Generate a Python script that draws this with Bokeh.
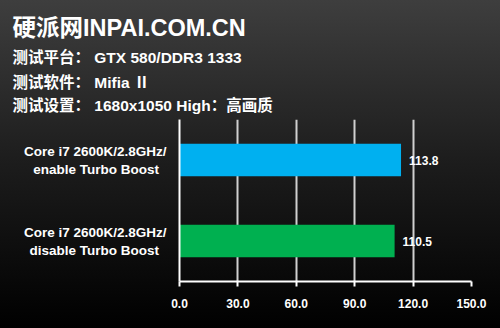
from bokeh.plotting import figure
from bokeh.models import FactorRange, Range1d, FixedTicker, Title, ColumnDataSource, LabelSet, NumeralTickFormatter
from bokeh.core.properties import value
from bokeh.embed import file_html
from bokeh.resources import INLINE

NB = "\u00a0\u00a0"
categories = ["Core i7 2600K/2.8GHz/\ndisable Turbo Boost" + NB, "Core i7 2600K/2.8GHz/\nenable Turbo Boost" + NB]
values = [110.5, 113.8]
colors = ["#00b050", "#00b0f0"]
value_labels = ["110.5", "113.8"]
x_ticks = [0, 30, 60, 90, 120, 150]

title_text = "硬派网INPAI.COM.CN"
info_lines = ["测试平台： GTX 580/DDR3 1333", "测试软件： Mifia Ⅱ", "测试设置： 1680x1050 High：高画质"]

FONT = "Liberation Sans, Arial, Noto Sans CJK SC"
W, H = 500, 328
BL, BR, BT, BB = 179, 29, 119, 47

p = figure(width=W, height=H, y_range=FactorRange(*categories), x_range=Range1d(0, 150),
           output_backend="svg", toolbar_location=None,
           min_border_left=BL, min_border_right=BR, min_border_top=BT, min_border_bottom=BB,
           border_fill_color=None, background_fill_color=None, outline_line_color=None,
           styles={"background": "linear-gradient(to bottom, #3e3e3e 0%, #1c1c1c 50%, #000000 100%)"})

src = ColumnDataSource(dict(cat=categories, val=values, color=colors, lab=value_labels))
p.hbar(y="cat", right="val", left=0, height=0.4, color="color", line_color=None, source=src)
p.add_layout(LabelSet(x="val", y="cat", text="lab", source=src, x_offset=8, text_align="left",
                      text_baseline="middle", text_color="white", text_font_size="12px",
                      text_font_style="bold", text_font=value(FONT)))

# grid
p.ygrid.grid_line_color = None
p.xgrid.ticker = FixedTicker(ticks=x_ticks)
p.xgrid.grid_line_color = "#d0d0d0"
p.xgrid.grid_line_width = 2

# x axis
p.xaxis.ticker = FixedTicker(ticks=x_ticks)
p.xaxis.formatter = NumeralTickFormatter(format="0.0")
p.xaxis.axis_line_color = "white"
p.xaxis.axis_line_width = 2
p.xaxis.major_tick_line_color = "white"
p.xaxis.major_tick_line_width = 2
p.xaxis.major_tick_in = 0
p.xaxis.major_tick_out = 5
p.xaxis.minor_tick_line_color = None
p.xaxis.major_label_text_color = "white"
p.xaxis.major_label_text_font_size = "12px"
p.xaxis.major_label_text_font_style = "bold"
p.xaxis.major_label_text_font = FONT
p.xaxis.major_label_standoff = 12

# y axis
p.yaxis.axis_line_color = "white"
p.yaxis.axis_line_width = 2
p.yaxis.major_tick_line_color = None
p.yaxis.minor_tick_line_color = None
p.yaxis.major_label_text_color = "white"
p.yaxis.major_label_text_font_size = "13.5px"
p.yaxis.major_label_text_font_style = "bold"
p.yaxis.major_label_text_font = FONT
p.yaxis.major_label_standoff = 7

# header texts as stacked titles (later added = further from the plot)
def add_title(text, size, standoff, color="white", alpha=1.0):
    p.add_layout(Title(text=text, align="left", offset=12 - BL, standoff=standoff,
                       text_color=color, text_alpha=alpha, text_font_size=size, text_font_style="bold",
                       text_font=FONT), "above")

add_title(".", "5.5px", 0, color="#262626", alpha=0.02)   # near-invisible spacer between header and plot
add_title(info_lines[2], "15.5px", 0)
add_title(info_lines[1], "15.5px", 8)
add_title(info_lines[0], "15.5px", 4)
add_title(title_text, "23.5px", 7)

open("out.html", "w").write(file_html(p, INLINE))
